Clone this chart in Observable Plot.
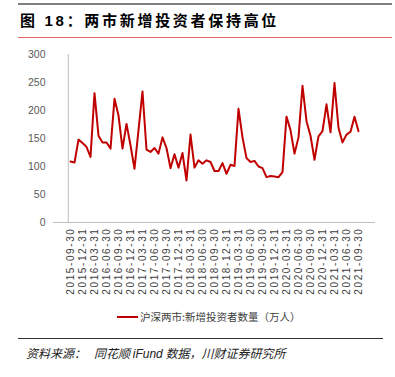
<!DOCTYPE html>
<html>
<head>
<meta charset="utf-8">
<script src="https://cdn.jsdelivr.net/npm/d3@7"></script>
<script src="https://cdn.jsdelivr.net/npm/@observablehq/plot@0.6"></script>
<style>
  html, body { margin: 0; padding: 0; background: #fff; }
  body { width: 395px; height: 377px; position: relative; overflow: hidden; font-family: "Liberation Sans", Arial, "Noto Sans CJK SC", sans-serif; }
  .abs { position: absolute; }
  #topline { left: 18px; top: 3px; width: 374px; height: 2px; background: #7f7f7f; }
  #title { left: 20px; top: 11px; font-size: 15px; font-weight: bold; letter-spacing: 2.7px; color: #000; white-space: nowrap; font-family: "Liberation Sans", "Noto Sans CJK SC", sans-serif; line-height: 20px; }
  #redline { left: 18px; top: 37px; width: 374px; height: 1px; background: #e06666; }
  #chart { left: 0; top: 40px; }
  #chart g[aria-label="x-axis tick label"] text { letter-spacing: 1.6px; }
  #legend { left: 117px; top: 309px; display: flex; align-items: center; font-size: 10.5px; color: #404040; font-family: "Noto Sans CJK SC", sans-serif; white-space: nowrap; line-height: 16px; }
  #legend .sw { width: 21px; height: 2px; background: #c00000; margin-right: 2px; }
  #blackline { left: 18px; top: 338px; width: 365px; height: 1px; background: #333; }
  #source { left: 26px; top: 345px; font-size: 12px; font-style: italic; color: #222; white-space: nowrap; font-family: "Noto Sans CJK SC", sans-serif; line-height: 16px; }
</style>
</head>
<body>
<div class="abs" id="topline"></div>
<div class="abs" id="title">图 18：两市新增投资者保持高位</div>
<div class="abs" id="redline"></div>
<div class="abs" id="chart"></div>
<div class="abs" id="legend"><span class="sw"></span><span id="legendText"></span></div>
<div class="abs" id="blackline"></div>
<div class="abs" id="source">资料来源：&nbsp;&nbsp; 同花顺 <span style="font-family:'Liberation Sans',Arial,sans-serif">iFund</span> 数据，川财证券研究所</div>
<script>
// Monthly new investors, Shanghai + Shenzhen (10k persons), 2015-09 .. 2021-09
const seriesName = "沪深两市:新增投资者数量（万人）";
const newInvestors = [
  109,107,148,142,135,117,231,155,143,143,
  132,221,191,132,176,138,96,165,234,130,
  126,133,123,152,133,97,122,98,124,75,
  157,98,111,105,111,108,92,92,106,87,
  103,101,203,152,115,108,110,100,97,81,
  83,82,81,90,189,165,123,152,244,181,
  155,112,154,163,211,161,249,169,143,157,
  162,189,163
];
const xTickLabels = [
  "2015-09-30","2015-12-31","2016-03-31","2016-06-30","2016-09-30","2016-12-31",
  "2017-03-31","2017-06-30","2017-09-30","2017-12-31","2018-03-31","2018-06-30",
  "2018-09-30","2018-12-31","2019-03-31","2019-06-30","2019-09-30","2019-12-31",
  "2020-03-31","2020-06-30","2020-09-30","2020-12-31","2021-03-31","2021-06-30",
  "2021-09-30"
];
const yTicks = [0, 50, 100, 150, 200, 250, 300];

// month-end category labels
const fmt = d3.utcFormat("%Y-%m-%d");
const start = new Date(Date.UTC(2015, 9, 1));
const months = newInvestors.map((_, i) => fmt(d3.utcDay.offset(d3.utcMonth.offset(start, i), -1)));
const data = months.map((m, i) => ({date: m, value: newInvestors[i]}));

document.getElementById("legendText").textContent = seriesName;

const chart = Plot.plot({
  width: 395,
  height: 255,
  marginTop: 14,
  marginBottom: 73,
  marginLeft: 53,
  marginRight: 20,
  style: {fontFamily: "'Liberation Sans', Arial, sans-serif", background: "transparent"},
  x: {type: "point", domain: months, padding: 0.5},
  y: {domain: [0, 300]},
  marks: [
    Plot.ruleX([months[0]], {y1: 0, y2: 300, dx: -2.2, stroke: "#bfbfbf", strokeWidth: 1}),
    Plot.ruleY([0], {stroke: "#bfbfbf", strokeWidth: 1}),
    Plot.axisY({ticks: yTicks, tickSize: 0, tickPadding: 8, fontSize: 10.5, fill: "#595959", label: null}),
    Plot.axisX({ticks: xTickLabels, tickSize: 0, tickPadding: 5, tickRotate: -90, fontSize: 10, fill: "#404040", label: null}),
    Plot.line(data, {x: "date", y: "value", stroke: "#c00000", strokeWidth: 2})
  ]
});
document.getElementById("chart").appendChild(chart);
</script>
</body>
</html>
